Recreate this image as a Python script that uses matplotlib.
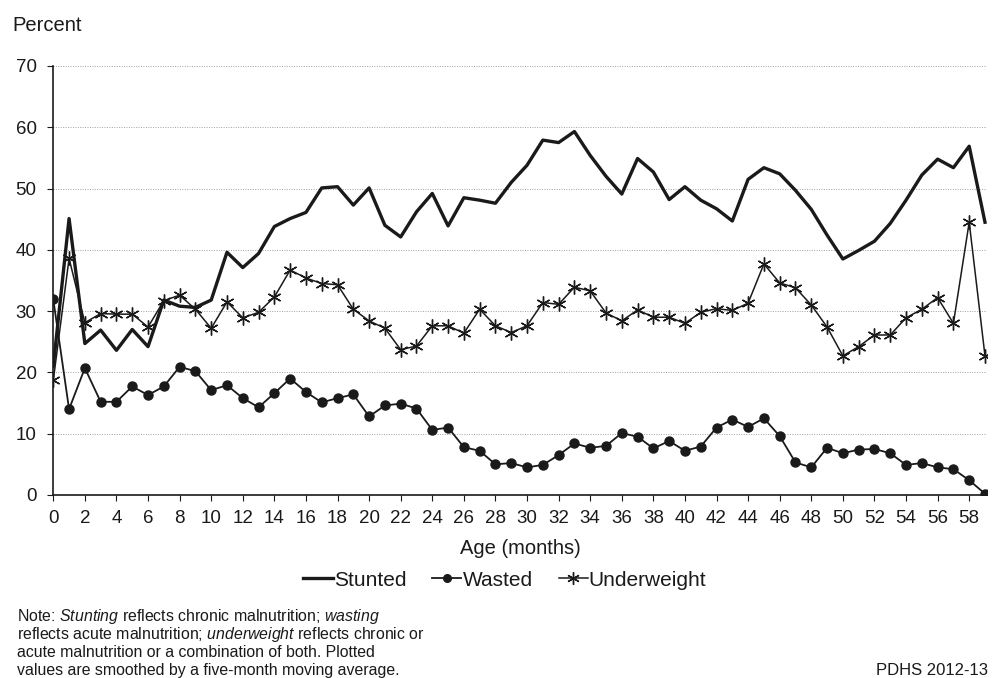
import matplotlib
matplotlib.use("Agg")
import matplotlib.pyplot as plt
import numpy as np

plt.rcParams['font.family'] = ['Liberation Sans', 'DejaVu Sans']
plt.rcParams['mathtext.fontset'] = 'custom'
plt.rcParams['mathtext.rm'] = 'Liberation Sans'
plt.rcParams['mathtext.it'] = 'Liberation Sans:italic'

# Age in months
age = list(range(60))

stunted = [21.0, 45.1, 24.7, 26.9, 23.6, 27.0, 24.2, 31.8, 30.8, 30.6,
           31.8, 39.6, 37.1, 39.4, 43.8, 45.1, 46.1, 50.1, 50.3, 47.3,
           50.1, 44.0, 42.1, 46.2, 49.2, 43.9, 48.5, 48.1, 47.6, 51.0,
           53.8, 57.9, 57.5, 59.3, 55.4, 52.0, 49.1, 54.9, 52.7, 48.2,
           50.3, 48.1, 46.7, 44.7, 51.5, 53.4, 52.4, 49.7, 46.6, 42.4,
           38.5, 39.9, 41.4, 44.3, 48.1, 52.2, 54.8, 53.4, 56.9, 44.5]

wasted = [31.9, 14.0, 20.7, 15.2, 15.2, 17.7, 16.3, 17.7, 20.9, 20.2,
          17.1, 17.9, 15.8, 14.3, 16.6, 19.0, 16.8, 15.1, 15.8, 16.4,
          12.8, 14.6, 14.9, 14.1, 10.6, 11.0, 7.8, 7.2, 5.0, 5.2,
          4.5, 4.9, 6.5, 8.4, 7.7, 8.0, 10.1, 9.5, 7.6, 8.8,
          7.2, 7.9, 11.0, 12.3, 11.1, 12.5, 9.6, 5.3, 4.5, 7.7,
          6.8, 7.4, 7.5, 6.8, 4.9, 5.2, 4.5, 4.2, 2.4, 0.2]

underweight = [18.7, 38.6, 28.1, 29.6, 29.5, 29.5, 27.4, 31.7, 32.6, 30.3,
               27.2, 31.5, 28.9, 29.8, 32.3, 36.7, 35.4, 34.5, 34.3, 30.3,
               28.4, 27.2, 23.7, 24.3, 27.6, 27.6, 26.4, 30.3, 27.6, 26.5,
               27.6, 31.4, 31.1, 33.9, 33.3, 29.7, 28.4, 30.2, 29.0, 29.0,
               28.0, 29.8, 30.4, 30.1, 31.3, 37.7, 34.6, 33.8, 31.0, 27.4,
               22.7, 24.2, 26.1, 26.1, 28.9, 30.3, 32.2, 28.0, 44.5, 22.7]

x_ticks = list(range(0, 60, 2))
y_ticks = [0, 10, 20, 30, 40, 50, 60, 70]

ink = "#1a1a1a"

fig = plt.figure(figsize=(9.94, 6.78), dpi=100)
ax = fig.add_axes([0.0536, 0.270, 0.9394, 0.6327])

ax.plot(age, stunted, color=ink, lw=2.4, label="Stunted", zorder=3)
ax.plot(age, wasted, color=ink, lw=1.3, marker="o", markersize=6.5,
        label="Wasted", zorder=3)
ax.plot(age, underweight, color=ink, lw=1.1, marker=(6, 2, 0),
        markersize=10, markeredgewidth=1.0, label="Underweight", zorder=3)

ax.set_xlim(0, 59.13)
ax.set_ylim(0, 70)
ax.set_xticks(x_ticks)
ax.set_yticks(y_ticks)
ax.tick_params(axis="both", labelsize=13.5, colors=ink, length=4, width=0.8,
               direction="out")
ax.tick_params(axis="x", pad=6.5)
ax.tick_params(axis="y", pad=8)

for v in y_ticks[1:]:
    ax.axhline(v, color="#a0a0a0", lw=0.7, ls=(0, (1, 1.5)), zorder=1)

for side in ("top", "right"):
    ax.spines[side].set_visible(False)
for side in ("left", "bottom"):
    ax.spines[side].set_color(ink)
    ax.spines[side].set_linewidth(1.2)

ax.set_xlabel("Age (months)", fontsize=14.5, color=ink, labelpad=9)
fig.text(0.012, 0.962, "Percent", fontsize=14.5, color=ink, ha="left", va="center")

leg = fig.legend(loc="center", bbox_to_anchor=(0.508, 0.1445), ncol=3,
                 frameon=False, fontsize=15, handlelength=1.4,
                 handletextpad=0.05, columnspacing=1.25, labelcolor=ink)
for h in leg.legend_handles:
    h.set_markersize(5.5 if h.get_marker() == "o" else 9)

note_fs = 11.4
note_y = 0.090
fig.text(0.017, note_y,
         r"Note: $\it{Stunting}$ reflects chronic malnutrition; $\it{wasting}$",
         fontsize=note_fs, color=ink, ha="left", va="center")
fig.text(0.017, note_y - 0.0265,
         r"reflects acute malnutrition; $\it{underweight}$ reflects chronic or",
         fontsize=note_fs, color=ink, ha="left", va="center")
fig.text(0.017, note_y - 0.053,
         "acute malnutrition or a combination of both. Plotted",
         fontsize=note_fs, color=ink, ha="left", va="center")
fig.text(0.017, note_y - 0.0795,
         "values are smoothed by a five-month moving average.",
         fontsize=note_fs, color=ink, ha="left", va="center")
fig.text(0.994, note_y - 0.0795, "PDHS 2012-13", fontsize=12, color=ink,
         ha="right", va="center")

fig.savefig("out.png", dpi=100, facecolor="white")
